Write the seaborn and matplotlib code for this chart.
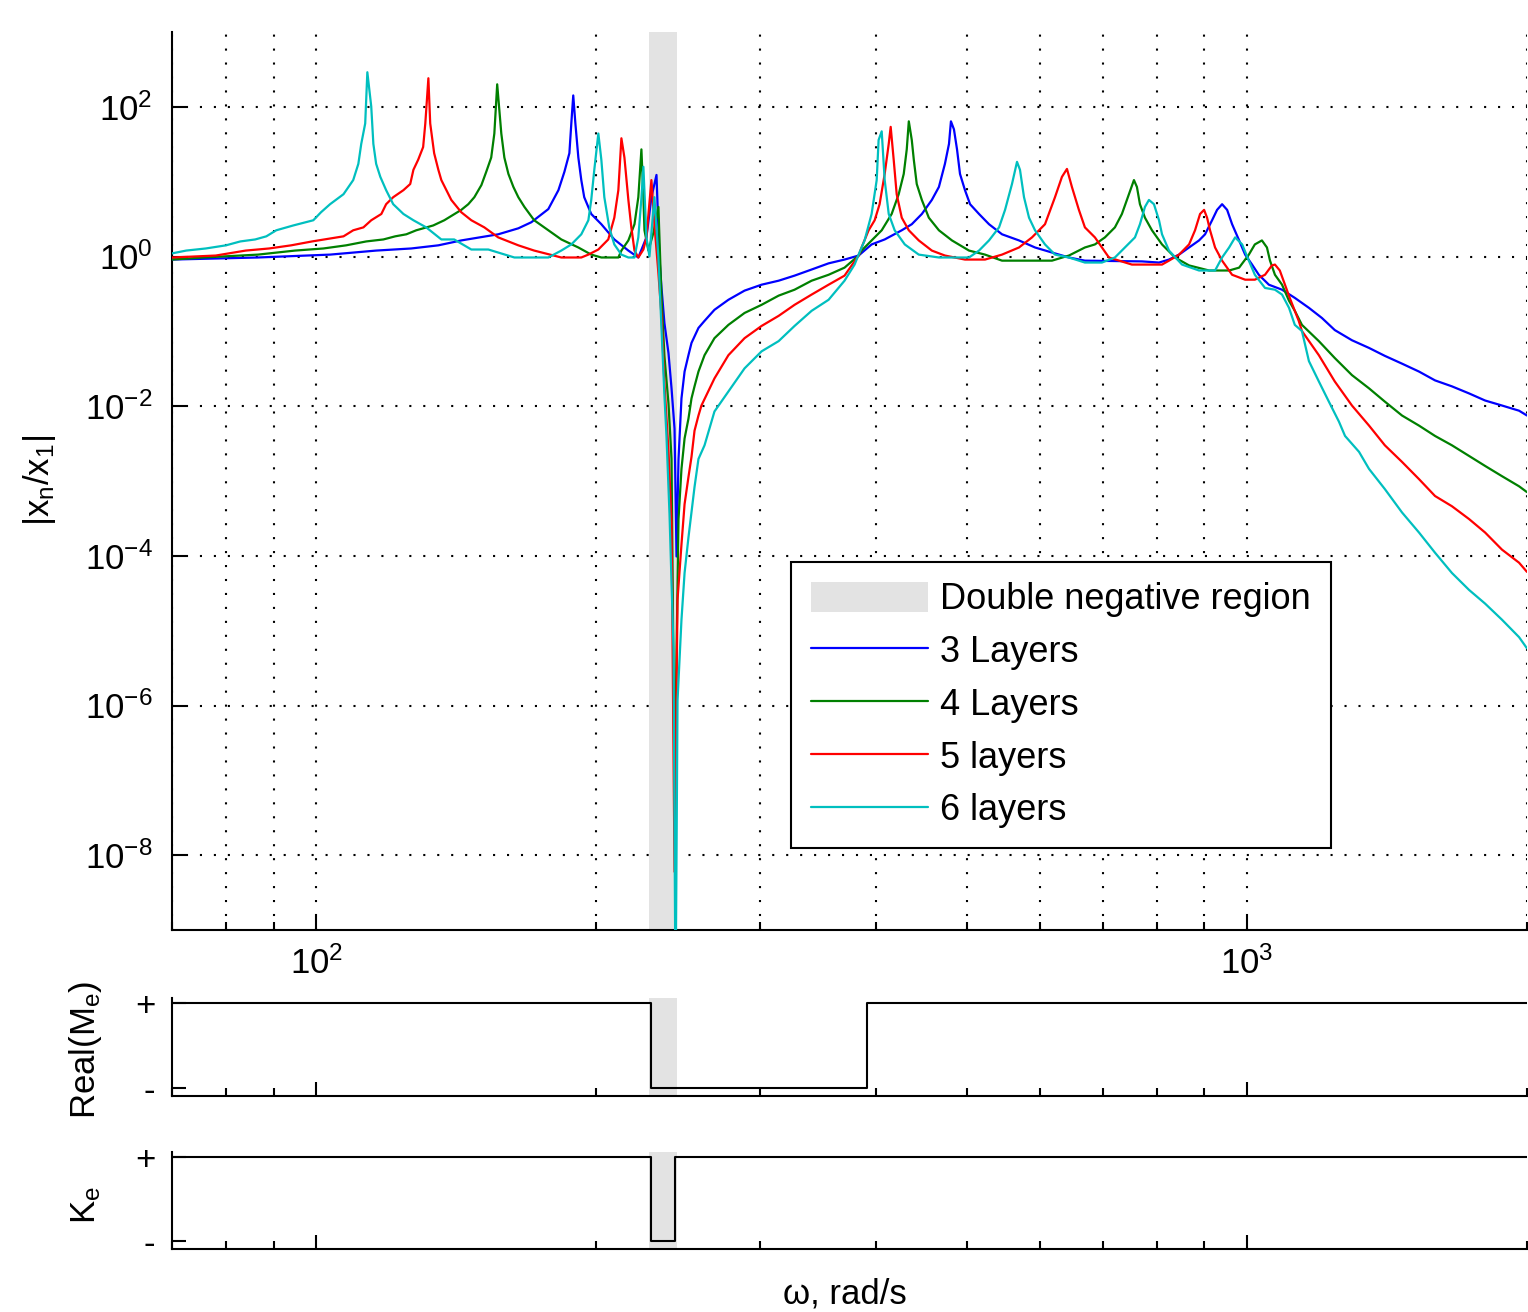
import numpy as np
import matplotlib
matplotlib.use('Agg')
import matplotlib.pyplot as plt
import matplotlib.ticker as mticker
import seaborn as sns

# ── Data (omega in rad/s, |x_n/x_1|) ─────────────────────────────────────────
w3 = [70, 86.6, 103.5, 116, 126.5, 135.3, 143.2, 156.9, 164.9, 170.3, 177.6, 182.1,
      184.8, 187.1, 188.0, 188.9, 189.9, 191.3, 192.7, 194.1, 197.5, 202.5, 209.1,
      216.5, 221.9, 226.4, 229.2, 232.1, 233.8, 235.0, 236.7, 239.1, 240.9, 242.7,
      243.9, 245.1, 246.9, 248.8, 251.2, 253.1, 257.5, 261.4, 267.9, 277.3, 288.6,
      301.0, 314.0, 326.6, 340.7, 355.3, 369.6, 382.7, 395.2, 408.2, 425.8, 436.5,
      447.5, 458.7, 466.8, 473.8, 478.6, 480.9, 484.5, 488.2, 491.8, 497.9, 504.2,
      515.5, 528.4, 545.7, 569.1, 592.1, 617.5, 643.9, 669.9, 771.4, 804.7, 824.8,
      845.6, 866.8, 888.5, 901.8, 917.6, 929.0, 940.6, 952.4, 964.2, 981.1, 995.8,
      1013, 1030, 1056, 1091, 1126, 1166, 1204, 1243, 1297, 1353, 1407, 1468, 1531,
      1593, 1661, 1733, 1803, 1880, 1961, 2000]
m3 = [0.91, 0.97, 1.06, 1.20, 1.28, 1.41, 1.64, 1.98, 2.38, 2.87, 4.3, 7.7,
      13.5, 24, 60, 142, 60, 21, 10.5, 6.2, 3.7, 2.7, 1.69,
      1.20, 0.97, 1.8, 6.2, 12.3, 0.97, 0.38, 0.129, 0.051, 0.0173, 0.0050,
      9.8e-5, 0.00197, 0.0127, 0.029, 0.048, 0.070, 0.111, 0.138, 0.194, 0.264, 0.35,
      0.42, 0.475, 0.555, 0.67, 0.81, 0.91, 1.03, 1.45, 1.69, 2.24, 2.7,
      3.7, 5.7, 8.5, 17.3, 32, 64, 50, 27, 12.7, 7.7, 5.0,
      3.7, 2.7, 1.98, 1.64, 1.32, 1.13, 0.97, 0.88, 0.86, 0.83, 0.91,
      1.06, 1.32, 1.64, 1.98, 3.05, 4.2, 5.0, 4.2, 2.7, 1.64, 1.06,
      0.78, 0.57, 0.42, 0.36, 0.28, 0.206, 0.151, 0.104, 0.076, 0.060, 0.047, 0.037, 0.029,
      0.0221, 0.0184, 0.0148, 0.0119, 0.0102, 0.0087, 0.0075]

w4 = [70, 75.6, 86.6, 94.9, 101.8, 107.7, 113.2, 118.1, 121.6, 125.0, 128.1, 133.6,
      137.3, 143.2, 145.7, 147.9, 150.5, 152.3, 154.2, 155.4, 156.5, 158.1, 159.3,
      160.9, 162.9, 164.9, 167.4, 171.5, 177.6, 183.4, 191.3, 197.5, 202.5, 211.2,
      212.8, 216.5, 219.8, 221.9, 223.6, 224.7, 225.3, 227.5, 230.4, 233.2, 235.0,
      236.7, 239.1, 240.9, 242.7, 245.1, 246.9, 248.8, 251.2, 253.1, 255.0, 257.5,
      261.4, 267.9, 277.3, 288.6, 301.0, 314.0, 326.6, 340.7, 355.3, 369.6, 382.7,
      385.5, 395.2, 405.2, 415.3, 422.6, 427.9, 431.1, 433.3, 436.5, 438.7, 441.9,
      447.5, 455.3, 466.8, 482.1, 502.9, 523.2, 545.7, 617.5, 643.9, 669.9, 686.7,
      703.9, 721.5, 734.1, 747.0, 756.3, 761.9, 767.6, 777.2, 790.8, 810.7, 837.2,
      866.8, 910.8, 957.1, 981.1, 1005, 1020, 1038, 1051, 1059, 1072, 1091, 1110,
      1126, 1146, 1195, 1243, 1297, 1353, 1407, 1468, 1531, 1593, 1661, 1733, 1803,
      1880, 1961, 2000]
m4 = [0.91, 0.97, 1.06, 1.20, 1.28, 1.41, 1.59, 1.69, 1.86, 1.98, 2.24, 2.6,
      3.05, 4.2, 5.0, 6.2, 9.0, 13.5, 21, 44, 200, 44, 21,
      12.7, 8.5, 6.2, 4.6, 3.05, 2.24, 1.69, 1.32, 1.06, 0.97, 0.97,
      1.20, 1.64, 2.7, 6.2, 27, 6.2, 2.24, 1.20, 2.1, 4.6, 0.28,
      0.047, 0.0108, 0.00197, 7.8e-8, 0.00031, 0.00145, 0.0037, 0.0068, 0.0127, 0.0184, 0.029,
      0.048, 0.081, 0.122, 0.176, 0.226, 0.30, 0.36, 0.475, 0.57, 0.71, 1.03,
      1.20, 1.64, 2.24, 3.7, 6.8, 12.7, 27, 64, 36, 19.6, 9.3,
      5.7, 3.3, 2.24, 1.64, 1.20, 1.06, 0.88, 0.88, 1.03, 1.32, 1.45,
      1.80, 2.45, 3.7, 6.8, 10.5, 8.5, 5.0, 3.3, 2.24, 1.45, 0.97,
      0.76, 0.65, 0.65, 0.71, 1.06, 1.45, 1.64, 1.32, 0.88, 0.57, 0.42, 0.256,
      0.188, 0.122, 0.074, 0.044, 0.026, 0.0173, 0.0115, 0.0075, 0.0055, 0.0040, 0.0030, 0.00216, 0.00159,
      0.00116, 0.00085, 0.00071]

w5 = [70, 78, 84, 89, 94, 99, 102, 107, 109.6, 112.4, 114.6, 117.5, 118.9, 121.0,
      124.1, 126.2, 127.2, 128.7, 130.3, 131.0, 132.0, 132.6, 133.9, 135.3, 136.3,
      138.0, 139.7, 143.2, 146.8, 151.6, 156.9, 164.9, 171.5, 183.4, 192.7, 196.1,
      201.0, 206.0, 209.1, 211.2, 212.8, 214.4, 216.5, 218.1, 219.8, 221.9, 224.7,
      226.4, 229.2, 230.9, 233.2, 235.0, 236.7, 239.1, 240.9, 242.7, 244.5, 246.9,
      248.8, 251.2, 253.1, 255.0, 257.5, 259.4, 267.9, 277.3, 288.6, 301.0, 314.0,
      326.6, 340.7, 355.3, 369.6, 382.7, 385.5, 392.3, 398.2, 403.1, 408.2, 412.3,
      414.3, 417.4, 420.5, 425.8, 433.3, 444.1, 458.7, 473.8, 497.9, 523.2, 545.7,
      569.1, 587.7, 606.9, 622.1, 632.9, 640.8, 648.7, 660.0, 669.9, 686.7, 698.7,
      710.9, 752.5, 810.7, 824.8, 845.6, 866.8, 879.7, 890.7, 899.6, 906.3, 913.0,
      924.4, 940.6, 964.2, 995.8, 1020, 1046, 1064, 1072, 1085, 1099, 1112, 1137,
      1146, 1195, 1243, 1297, 1353, 1407, 1468, 1531, 1593, 1661, 1733, 1803, 1880,
      1961, 2000]
m5 = [0.97, 1.03, 1.20, 1.28, 1.41, 1.59, 1.69, 1.86, 2.24, 2.45, 3.05, 3.7, 5.0, 6.2,
      7.7, 9.3, 14.4, 19.6, 29, 60, 241, 60, 24, 14.4, 10.5,
      7.7, 5.7, 3.9, 3.05, 2.45, 1.80, 1.41, 1.20, 0.97, 0.97, 1.06,
      1.24, 1.69, 3.3, 7.7, 38, 21, 5.7, 2.45, 1.20, 0.97, 1.24,
      1.8, 10.5, 2.7, 0.6, 0.16, 0.02, 0.0025, 0.00028, 6.0e-9, 2.6e-5, 0.000142,
      0.00049, 0.00113, 0.0021, 0.0047, 0.0075, 0.0102, 0.0235, 0.048, 0.081, 0.118, 0.161,
      0.226, 0.31, 0.42, 0.555, 1.03, 1.32, 2.24, 3.05, 5.0, 12.7, 32,
      54, 19.6, 6.8, 3.3, 2.24, 1.64, 1.20, 1.03, 0.91, 0.91, 1.06,
      1.32, 1.80, 2.7, 6.2, 11.6, 14.8, 8.5, 4.2, 2.45, 1.80, 1.32,
      0.97, 0.78, 0.78, 0.88, 1.06, 1.45, 2.24, 3.7, 4.2, 3.3, 2.24,
      1.32, 0.88, 0.57, 0.49, 0.49, 0.57, 0.76, 0.78, 0.65, 0.42, 0.28, 0.138,
      0.101, 0.048, 0.0214, 0.0102, 0.0055, 0.0030, 0.0018, 0.00106, 0.00063, 0.00046, 0.00031, 0.000205, 0.000121,
      8.1e-5, 6.1e-5]

w6 = [70, 72.5, 76.1, 80.0, 82.9, 86.0, 88.4, 90.6, 94.5, 99.3, 101.2, 103.5, 107.0,
      109.6, 111.0, 111.8, 112.9, 113.5, 114.6, 115.2, 116.0, 117.2, 118.9, 121.0,
      124.1, 127.2, 131.3, 136.3, 140.7, 146.8, 153.1, 163.3, 177.6, 183.4, 188.0,
      192.7, 196.1, 197.5, 199.0, 201.0, 202.5, 204.0, 206.5, 209.1, 212.8, 216.5,
      219.8, 221.9, 223.6, 224.7, 226.4, 228.1, 230.9, 233.2, 235.0, 236.7, 237.9,
      239.7, 242.1, 243.3, 244.5, 246.9, 248.8, 251.2, 253.1, 255.0, 257.5, 261.4,
      267.9, 277.3, 288.6, 301.0, 314.0, 326.6, 340.7, 355.3, 369.6, 378.9, 382.7,
      388.4, 395.2, 400.2, 402.1, 405.2, 408.2, 412.3, 418.4, 429.0, 444.1, 466.8,
      502.9, 515.5, 528.4, 541.7, 549.8, 559.3, 566.3, 570.5, 576.2, 583.4, 592.1,
      606.9, 622.1, 643.9, 669.9, 698.7, 721.5, 739.6, 758.2, 767.6, 777.2, 784.9,
      794.7, 804.7, 810.7, 824.8, 851.9, 888.5, 924.4, 940.6, 957.1, 971.4, 988.5,
      1005, 1020, 1046, 1072, 1091, 1110, 1126, 1146, 1166, 1195, 1225, 1256, 1275,
      1320, 1353, 1407, 1468, 1531, 1593, 1661, 1733, 1803, 1880, 1961, 2000]
m6 = [1.10, 1.20, 1.28, 1.41, 1.59, 1.69, 1.86, 2.24, 2.6, 3.05, 3.9, 5.0, 6.8,
      10.5, 17.3, 32, 60, 290, 101, 32, 17.3, 11.6, 7.7, 5.0,
      3.7, 3.05, 2.45, 1.69, 1.69, 1.24, 1.24, 0.97, 0.97, 1.20, 1.45,
      1.98, 3.05, 5.7, 14.4, 44, 19.6, 6.2, 2.45, 1.45, 1.06, 0.97,
      0.97, 1.8, 6.0, 15.8, 1.8, 1.0, 6.2, 0.97, 0.111, 0.0139, 0.0040,
      0.00036, 5.5e-6, 1e-10, 1.16e-6, 1.4e-5, 5.9e-5, 0.000176, 0.00038, 0.00083, 0.00197, 0.0030,
      0.0085, 0.0157, 0.032, 0.054, 0.074, 0.118, 0.188, 0.264, 0.475, 0.78, 1.06,
      1.64, 3.7, 10.5, 36, 47, 10.5, 3.7, 2.24, 1.45, 1.06, 0.97,
      0.97, 1.20, 1.64, 2.45, 4.2, 9.3, 18.4, 14.4, 6.2, 3.3, 2.24,
      1.45, 1.06, 0.97, 0.83, 0.83, 0.97, 1.32, 1.80, 2.7, 4.6, 5.7,
      5.0, 3.05, 1.98, 1.20, 0.78, 0.65, 0.65, 0.97, 1.32, 1.80, 1.45,
      0.88, 0.57, 0.38, 0.36, 0.31, 0.206, 0.122, 0.101, 0.040, 0.0214, 0.0115, 0.0062, 0.0040,
      0.00245, 0.00145, 0.00078, 0.00038, 0.000205, 0.00011, 5.9e-5, 3.5e-5, 2.3e-5, 1.4e-5, 8.2e-6, 5.8e-6]

labels = ['3 Layers', '4 Layers', '5 layers', '6 layers']
colors = ['#0000ff', '#008000', '#ff0000', '#00bfbf']

# double negative band and sign of the effective parameters
dn_band = [228, 244]
me_w = [70, 229, 391, 2000]
me_sign = [1, -1, 1, 1]
ke_w = [70, 229, 243, 2000]
ke_sign = [1, -1, 1, 1]

SHADE = '#e3e3e3'
FS = 25

# ── Style ─────────────────────────────────────────────────────────────────────
sns.set_theme(style='white')
plt.rcParams['font.family'] = ['Liberation Sans', 'DejaVu Sans']
plt.rcParams.update({
    'mathtext.fontset': 'custom',
    'mathtext.rm': 'Liberation Sans',
    'mathtext.it': 'Liberation Sans',
    'mathtext.default': 'regular',
    'axes.edgecolor': 'black',
    'axes.linewidth': 1.5,
    'text.color': 'black',
    'xtick.color': 'black',
    'ytick.color': 'black',
})

W, H = 1528, 1312
fig = plt.figure(figsize=(W / 100, H / 100), dpi=100)

def box(l, t, r, b):
    return [l / W, 1 - b / H, (r - l) / W, (b - t) / H]

ax = fig.add_axes(box(172, 32, 1527, 930))
ax_m = fig.add_axes(box(172, 998, 1527, 1096))
ax_k = fig.add_axes(box(172, 1152, 1527, 1249))

GRID = dict(color='black', linestyle=(0, (1, 5.7)), linewidth=1.5)

def log_x(a):
    a.set_xscale('log')
    a.set_xlim(70, 2000)
    a.xaxis.set_major_locator(mticker.LogLocator(base=10))
    a.xaxis.set_minor_locator(mticker.LogLocator(base=10, subs=np.arange(2, 10)))
    a.xaxis.set_minor_formatter(mticker.NullFormatter())
    a.spines[['top', 'right']].set_visible(False)
    a.tick_params(which='both', direction='in', bottom=True, left=True,
                  top=False, right=False, width=1.5, labelsize=FS)
    a.tick_params(which='major', length=10)
    a.tick_params(which='minor', length=6)

# ── Top panel: transmissibility ──────────────────────────────────────────────
ax.axvspan(*dn_band, color=SHADE, lw=0, zorder=1, label='Double negative region')
for w, m, c, lab in zip([w3, w4, w5, w6], [m3, m4, m5, m6], colors, labels):
    sns.lineplot(x=w, y=m, ax=ax, color=c, linewidth=1.6, label=lab,
                 estimator=None, sort=False, zorder=3)
log_x(ax)
ax.set_yscale('log')
ax.set_ylim(1e-9, 1e3)
ax.yaxis.set_major_locator(mticker.FixedLocator(10.0 ** np.arange(-8, 3, 2)))
ax.yaxis.set_minor_locator(mticker.NullLocator())
sci = mticker.FuncFormatter(lambda v, p: r'$10^{%d}$' % round(np.log10(v)))
ax.yaxis.set_major_formatter(sci)
ax.xaxis.set_major_formatter(sci)
ax.tick_params(axis='x', which='major', pad=12)
ax.tick_params(axis='y', which='major', pad=14)
ax.set_axisbelow(True)
ax.grid(True, which='major', axis='both', **GRID)
ax.grid(True, which='minor', axis='x', **GRID)
ax.set_xlabel('')
ax.set_ylabel('')

handles, labs = ax.get_legend_handles_labels()
order = [labs.index('Double negative region')] + [labs.index(l) for l in labels]
leg = ax.legend([handles[i] for i in order], [labs[i] for i in order],
                loc='upper left', bbox_to_anchor=(791 / W, 1 - 562 / H),
                bbox_transform=fig.transFigure, borderaxespad=0, fontsize=26,
                handlelength=3.24, handleheight=0.9, handletextpad=0.35,
                labelspacing=0.48, borderpad=0.55, frameon=True, fancybox=False,
                framealpha=1, edgecolor='black')
leg.get_frame().set_linewidth(1.5)

# ── Sign panels ──────────────────────────────────────────────────────────────
for a, w, s in [(ax_m, me_w, me_sign), (ax_k, ke_w, ke_sign)]:
    a.axvspan(*dn_band, color=SHADE, lw=0, zorder=1)
    sns.lineplot(x=w, y=s, ax=a, color='black', linewidth=1.5, drawstyle='steps-post',
                 estimator=None, sort=False, legend=False, zorder=3)
    log_x(a)
    a.xaxis.set_major_formatter(mticker.NullFormatter())
    a.set_ylim(-1.2, 1.13)
    a.set_yticks([-1, 1])
    a.set_yticklabels(['-', '+'])
    a.tick_params(axis='y', which='major', pad=12)
    a.set_xlabel('')
    a.set_ylabel('')

fig.text(40 / W, 1 - 480 / H, r'$|x_n/x_1|$', rotation=90, ha='center', va='center', fontsize=FS)
fig.text(86 / W, 1 - 1050 / H, r'Real(M$_e$)', rotation=90, ha='center', va='center', fontsize=FS)
fig.text(86 / W, 1 - 1205 / H, r'K$_e$', rotation=90, ha='center', va='center', fontsize=FS)
fig.text(845 / W, 1 - 1310 / H, 'ω, rad/s', ha='center', va='bottom', fontsize=FS)

fig.savefig('out.png', dpi=100)
